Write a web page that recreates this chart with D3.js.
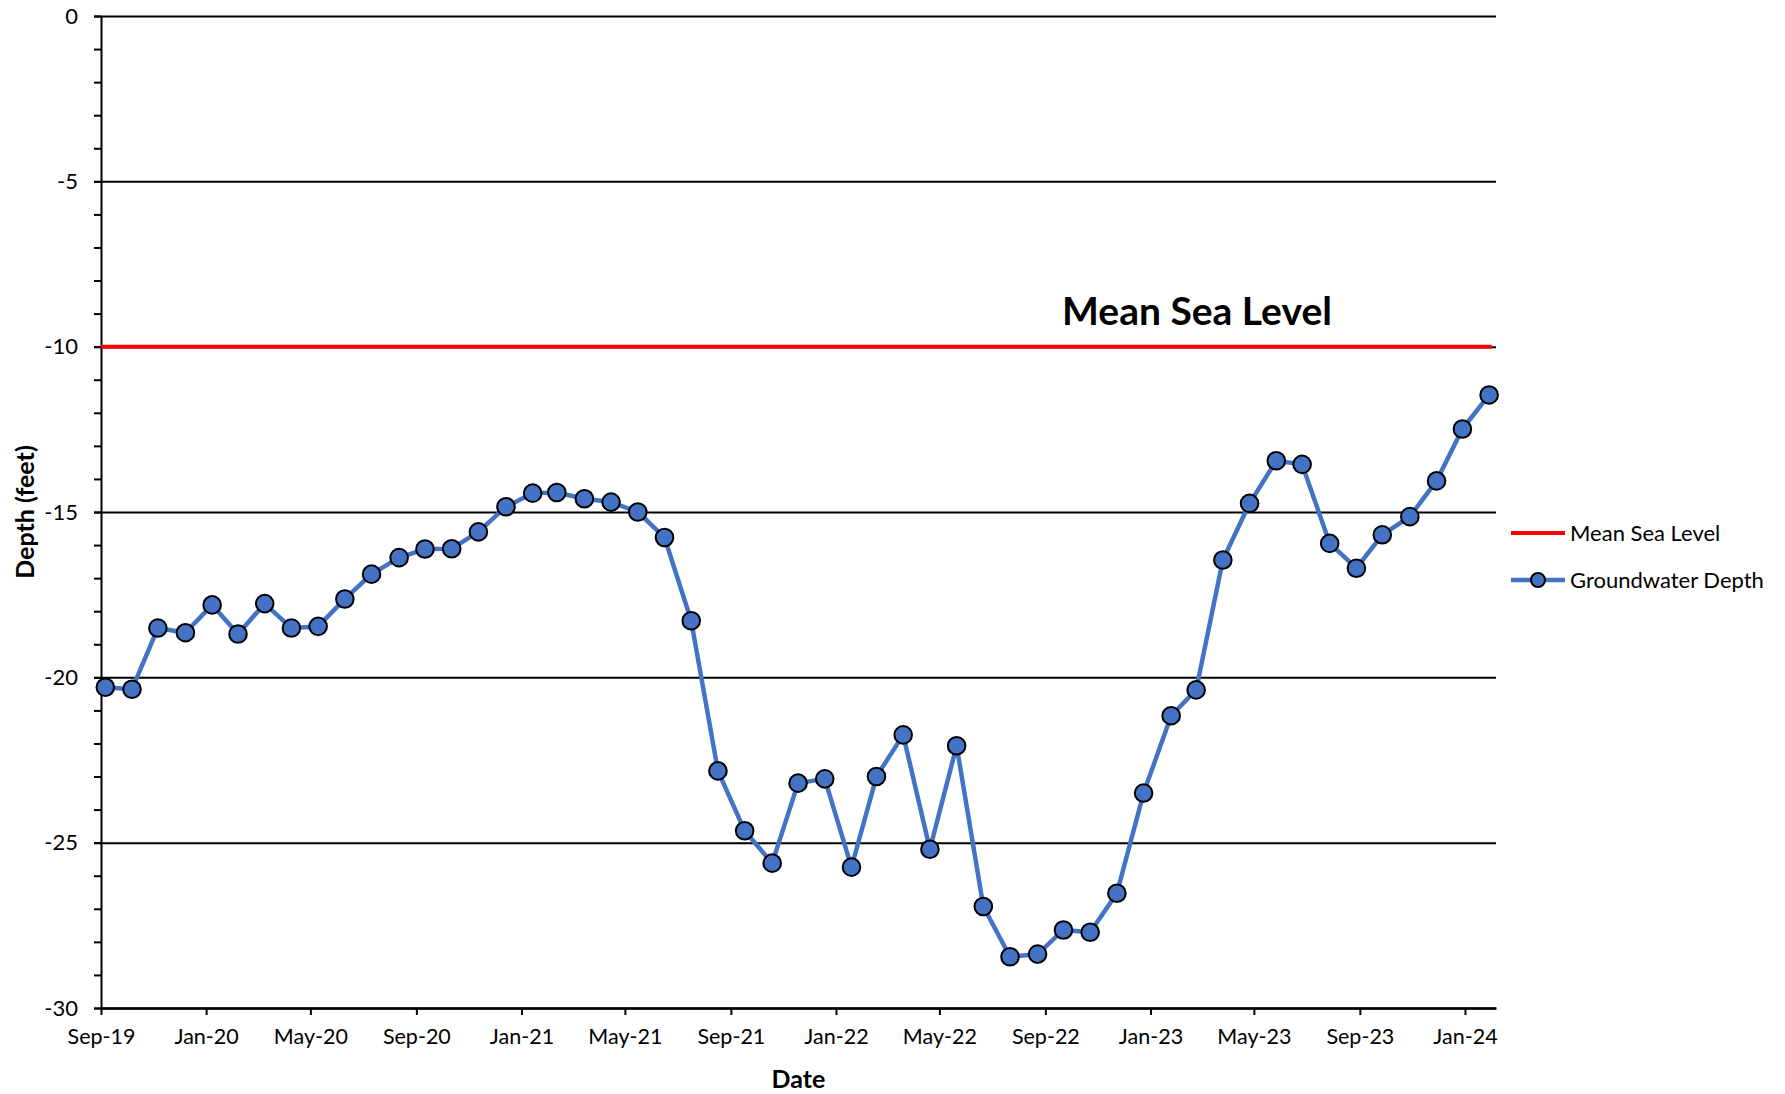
<!DOCTYPE html>
<html>
<head>
<meta charset="utf-8">
<script src="https://cdn.jsdelivr.net/npm/d3@7"></script>
<style>
  html, body { margin: 0; padding: 0; background: #ffffff; }
  svg { display: block; font-family: "Lato", "Open Sans", sans-serif; }
</style>
</head>
<body>
<svg id="chart" width="1785" height="1094"></svg>
<script>
// Groundwater depth readings (feet, relative to datum)
const sampleDates = [
  "2019-09-06","2019-10-07","2019-11-06","2019-12-08","2020-01-08","2020-02-07","2020-03-09","2020-04-09","2020-05-10","2020-06-10",
  "2020-07-11","2020-08-12","2020-09-11","2020-10-12","2020-11-12","2020-12-14","2021-01-14","2021-02-11","2021-03-15","2021-04-15",
  "2021-05-16","2021-06-16","2021-07-17","2021-08-17","2021-09-17","2021-10-19","2021-11-18","2021-12-19","2022-01-19","2022-02-17",
  "2022-03-20","2022-04-20","2022-05-21","2022-06-21","2022-07-22","2022-08-23","2022-09-22","2022-10-23","2022-11-23","2022-12-24",
  "2023-01-25","2023-02-23","2023-03-26","2023-04-26","2023-05-27","2023-06-26","2023-07-28","2023-08-28","2023-09-27","2023-10-29",
  "2023-11-29","2023-12-29","2024-01-29"
];
const groundwaterDepth = [
  -20.30,-20.36,-18.51,-18.65,-17.81,-18.69,-17.77,-18.51,-18.46,-17.63,
  -16.88,-16.38,-16.12,-16.11,-15.60,-14.84,-14.43,-14.41,-14.60,-14.70,
  -15.00,-15.77,-18.29,-22.83,-24.64,-25.62,-23.20,-23.07,-25.74,-23.00,
  -21.74,-25.20,-22.07,-26.93,-28.45,-28.37,-27.64,-27.71,-26.53,-23.50,
  -21.16,-20.38,-16.45,-14.74,-13.45,-13.56,-15.95,-16.70,-15.69,-15.14,
  -14.06,-12.49,-11.46
];

// Mean sea level reference series
const seaLevelDates = ["2019-09-01","2024-02-01"];
const seaLevelDepth = [-10, -10];

// Axis definitions
const xDomain = ["2019-09-01","2024-02-06"];
const xTickDates = ["2019-09-01","2020-01-01","2020-05-01","2020-09-01","2021-01-01","2021-05-01","2021-09-01",
                    "2022-01-01","2022-05-01","2022-09-01","2023-01-01","2023-05-01","2023-09-01","2024-01-01"];
const yMajorTicks = [0, -5, -10, -15, -20, -25, -30];
const yMinorTicks = d3.range(-30, 1, 1);
const yDomain = [-30, 0];

const seriesNames = ["Mean Sea Level", "Groundwater Depth"];
const annotationText = "Mean Sea Level";
const xTitle = "Date";
const yTitle = "Depth (feet)";

const parse = d3.utcParse("%Y-%m-%d");
const fmt = d3.utcFormat("%b-%y");

const plot = { left: 101, right: 1496, top: 16, bottom: 1008 };
const blue = "#4472C4";
const red = "#FF0000";

const svg = d3.select("#chart");

const x = d3.scaleUtc().domain(xDomain.map(parse)).range([plot.left, plot.right]);
const y = d3.scaleLinear().domain(yDomain).range([plot.bottom, plot.top]);

// Horizontal gridlines
svg.append("g")
  .attr("transform", `translate(${plot.left},0)`)
  .call(d3.axisLeft(y).tickValues(yMajorTicks).tickSize(-(plot.right - plot.left)).tickFormat(""))
  .call(g => g.select(".domain").remove())
  .call(g => g.selectAll("line").attr("stroke", "#000").attr("stroke-width", 2));

// Minor y ticks
svg.append("g")
  .attr("transform", `translate(${plot.left},0)`)
  .call(d3.axisLeft(y).tickValues(yMinorTicks).tickSize(7).tickFormat(""))
  .call(g => g.select(".domain").remove())
  .call(g => g.selectAll("line").attr("stroke", "#000").attr("stroke-width", 2));

// Y axis with labels (plain hyphen for negatives)
svg.append("g")
  .attr("transform", `translate(${plot.left},0)`)
  .call(d3.axisLeft(y).tickValues(yMajorTicks).tickFormat(d => String(d)).tickSize(7).tickPadding(16).tickSizeOuter(0))
  .call(g => g.select(".domain").attr("stroke", "#000").attr("stroke-width", 2))
  .call(g => g.selectAll("line").attr("stroke", "#000").attr("stroke-width", 2))
  .call(g => g.selectAll("text").attr("font-size", 22).attr("fill", "#000").attr("font-family", "Lato"));

// X axis
svg.append("g")
  .attr("transform", `translate(0,${plot.bottom})`)
  .call(d3.axisBottom(x).tickValues(xTickDates.map(parse)).tickFormat(fmt).tickSize(7).tickPadding(14).tickSizeOuter(0))
  .call(g => g.select(".domain").attr("stroke", "#000").attr("stroke-width", 2.5))
  .call(g => g.selectAll("line").attr("stroke", "#000").attr("stroke-width", 2))
  .call(g => g.selectAll("text").attr("font-size", 21.5).attr("fill", "#000").attr("font-family", "Lato"));

// Axis titles
svg.append("text")
  .attr("x", (plot.left + plot.right) / 2)
  .attr("y", 1088)
  .attr("text-anchor", "middle")
  .attr("font-size", 25)
  .attr("font-weight", "bold")
  .text(xTitle);

svg.append("text")
  .attr("transform", `translate(34,${(plot.top + plot.bottom) / 2}) rotate(-90)`)
  .attr("text-anchor", "middle")
  .attr("font-size", 25)
  .attr("font-weight", "bold")
  .text(yTitle);

// Mean sea level line
const seaData = seaLevelDates.map((d, i) => ({ date: parse(d), value: seaLevelDepth[i] }));
svg.append("path")
  .datum(seaData)
  .attr("fill", "none")
  .attr("stroke", red)
  .attr("stroke-width", 4)
  .attr("d", d3.line().x(d => x(d.date)).y(d => y(d.value)));

// Annotation above sea level line
svg.append("text")
  .attr("x", 1197)
  .attr("y", 325)
  .attr("text-anchor", "middle")
  .attr("font-size", 39)
  .attr("font-weight", "bold")
  .text(annotationText);

// Groundwater series
const gwData = sampleDates.map((d, i) => ({ date: parse(d), value: groundwaterDepth[i] }));
svg.append("path")
  .datum(gwData)
  .attr("fill", "none")
  .attr("stroke", blue)
  .attr("stroke-width", 4.5)
  .attr("stroke-linejoin", "round")
  .attr("d", d3.line().x(d => x(d.date)).y(d => y(d.value)));

svg.append("g")
  .selectAll("circle")
  .data(gwData)
  .join("circle")
  .attr("cx", d => x(d.date))
  .attr("cy", d => y(d.value))
  .attr("r", 8.8)
  .attr("fill", blue)
  .attr("stroke", "#000")
  .attr("stroke-width", 2);

// Legend
const legend = svg.append("g").attr("transform", "translate(1511,0)");
const legendRows = [
  { name: seriesNames[0], color: red, y: 533, marker: false, width: 4 },
  { name: seriesNames[1], color: blue, y: 580, marker: true, width: 4.5 }
];
legendRows.forEach(row => {
  legend.append("line")
    .attr("x1", 0).attr("x2", 54)
    .attr("y1", row.y).attr("y2", row.y)
    .attr("stroke", row.color).attr("stroke-width", row.width);
  if (row.marker) {
    legend.append("circle")
      .attr("cx", 27).attr("cy", row.y).attr("r", 7)
      .attr("fill", row.color).attr("stroke", "#000").attr("stroke-width", 2);
  }
  legend.append("text")
    .attr("x", 59).attr("y", row.y)
    .attr("dy", "0.35em")
    .attr("font-size", 22)
    .text(row.name);
});
</script>
</body>
</html>
